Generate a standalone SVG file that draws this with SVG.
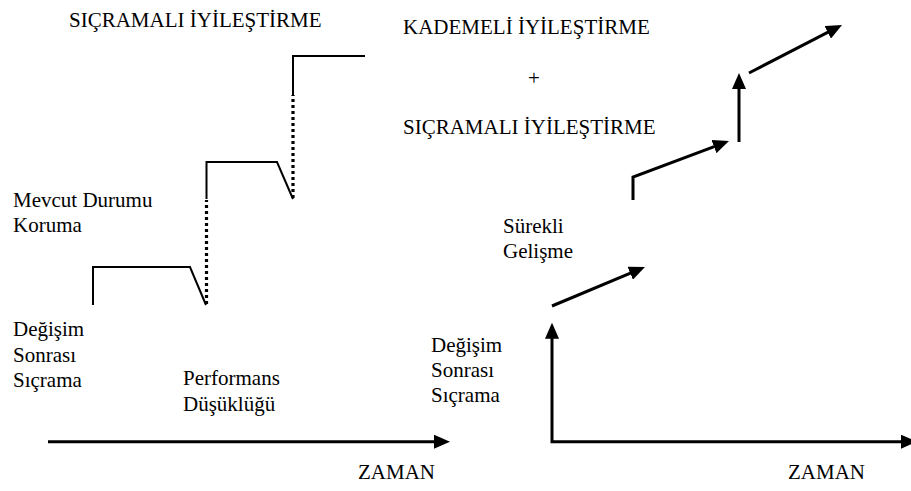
<svg xmlns="http://www.w3.org/2000/svg" width="911" height="491" viewBox="0 0 911 491">
  <defs>
    <style>
      .lbl { font-size: 21px; fill: #000; }
      .step { fill: none; stroke: #000; stroke-width: 2; stroke-linejoin: miter; }
      .dots { fill: none; stroke: #000; stroke-width: 3.2; stroke-dasharray: 3 3; }
      .arw { fill: none; stroke: #000; stroke-width: 3; marker-end: url(#head); }
    </style>
    <marker id="head" markerUnits="userSpaceOnUse" viewBox="0 0 16 14" refX="8" refY="7" markerWidth="16" markerHeight="14" orient="auto-start-reverse">
      <path d="M0,0 L16,7 L0,14 z" fill="#000"/>
    </marker>
  </defs>

  <rect width="911" height="491" fill="#fff"/>

  <g font-family="'Liberation Serif', 'Times New Roman', serif">
    <!-- left chart: stepwise (leap) improvement -->
    <g id="left-title"><text class="lbl" x="69" y="27">SIÇRAMALI İYİLEŞTİRME</text></g>
    <g id="label-mevcut"><text class="lbl" x="13" y="207">Mevcut Durumu</text><text class="lbl" x="13" y="232">Koruma</text></g>
    <g id="label-degisim-left"><text class="lbl" x="13" y="336">Değişim</text><text class="lbl" x="13" y="361.5">Sonrası</text><text class="lbl" x="13" y="387">Sıçrama</text></g>
    <g id="label-performans"><text class="lbl" x="183" y="385">Performans</text><text class="lbl" x="183" y="411">Düşüklüğü</text></g>
    <g id="label-zaman-left"><text class="lbl" x="358" y="479">ZAMAN</text></g>

    <!-- right chart: gradual + leap improvement -->
    <g id="right-title-1"><text class="lbl" x="403" y="34">KADEMELİ İYİLEŞTİRME</text></g>
    <g id="right-plus"><text class="lbl" x="534" y="85" text-anchor="middle">+</text></g>
    <g id="right-title-2"><text class="lbl" x="403" y="133.5">SIÇRAMALI İYİLEŞTİRME</text></g>
    <g id="label-surekli"><text class="lbl" x="503" y="233">Sürekli</text><text class="lbl" x="503" y="258">Gelişme</text></g>
    <g id="label-degisim-right"><text class="lbl" x="431" y="352">Değişim</text><text class="lbl" x="431" y="377">Sonrası</text><text class="lbl" x="431" y="402">Sıçrama</text></g>
    <g id="label-zaman-right"><text class="lbl" x="788" y="479">ZAMAN</text></g>
  </g>

  <g id="connectors">
    <!-- left: plateaus, drops and dotted jumps -->
    <path class="step" d="M93,305 V267 H190 L206,305"/>
    <path class="dots" d="M206.5,304 V200"/>
    <path class="step" d="M206.5,199 V162 H277 L293,199"/>
    <path class="dots" d="M293,198 V95"/>
    <path class="step" d="M293,95 V56 H365"/>
    <!-- left time axis -->
    <path class="arw" d="M48,441.7 H442"/>

    <!-- right: axes -->
    <path d="M552,330.7 V441.7 H909" fill="none" stroke="#000" stroke-width="3" marker-start="url(#head)" marker-end="url(#head)"/>
    <!-- right: continuous improvement arrows and jumps -->
    <path class="arw" d="M552,306 L637.6,270.1"/>
    <path class="arw" d="M633,200 V177 L721.5,143.8"/>
    <path class="arw" d="M739,142 V81"/>
    <path class="arw" d="M749,73 L834.9,28.7"/>
  </g>
</svg>
